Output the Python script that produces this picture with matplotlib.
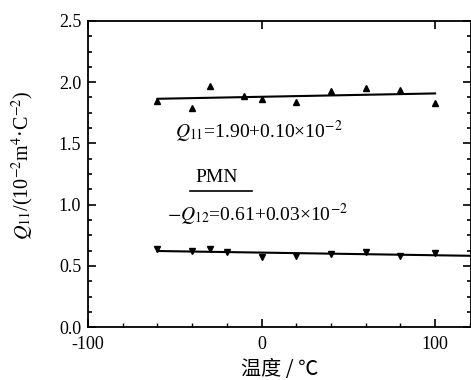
import numpy as np
import matplotlib
matplotlib.use("Agg")
import matplotlib.pyplot as plt
from matplotlib.ticker import AutoMinorLocator, MultipleLocator

plt.rcParams['font.family'] = ['Liberation Serif', 'Noto Sans CJK SC']
plt.rcParams['mathtext.fontset'] = 'stix'

# Q11 data (up triangles)
t_q11 = [-60, -40, -30, -10, 0, 20, 40, 60, 80, 100]
q11 = [1.85, 1.79, 1.97, 1.89, 1.86, 1.84, 1.93, 1.95, 1.94, 1.83]

# -Q12 data (down triangles)
t_q12 = [-60, -40, -30, -20, 0, 20, 40, 60, 80, 100]
q12 = [0.64, 0.62, 0.635, 0.61, 0.57, 0.58, 0.595, 0.615, 0.585, 0.605]

xticks = [-100, 0, 100]
yticks = [0.0, 0.5, 1.0, 1.5, 2.0, 2.5]

fig = plt.figure(figsize=(4.71, 3.8), dpi=100)
ax = fig.add_axes([0.187, 0.139, 0.814, 0.806])

ax.plot(t_q11, q11, '^', color='black', markersize=5)
ax.plot(t_q12, q12, 'v', color='black', markersize=5)

# linear fits
a1, b1 = np.polyfit(t_q11, q11, 1)
xf1 = np.linspace(min(t_q11), max(t_q11), 50)
ax.plot(xf1, a1 * xf1 + b1, '-', color='black', lw=1.5)
a2, b2 = np.polyfit(t_q12, q12, 1)
xf2 = np.linspace(min(t_q12), 121, 50)
ax.plot(xf2, a2 * xf2 + b2, '-', color='black', lw=1.5)

ax.text(-50, 1.59, r'$Q_{11}$=1.90+0.10×10$^{-2}$', fontsize=14, va='center', ha='left')
ax.text(-38, 1.22, 'PMN', fontsize=14, va='center', ha='left')
ax.plot([-41.5, -5.5], [1.11, 1.11], '-', color='black', lw=1.2)
ax.text(-54.5, 0.92, r'$-Q_{12}$=0.61+0.03×10$^{-2}$', fontsize=14, va='center', ha='left')

ax.set_xlim(-100, 121)
ax.set_ylim(0, 2.5)
ax.set_xticks(xticks)
ax.set_xticklabels(['-100', '0', '100'])
ax.set_yticks(yticks)
ax.set_yticklabels([f'{v:.1f}' for v in yticks])
ax.xaxis.set_minor_locator(MultipleLocator(20))
ax.yaxis.set_minor_locator(AutoMinorLocator(4))
ax.tick_params(axis='both', which='major', direction='in', length=6, width=1.2,
               labelsize=13, top=True, right=True)
ax.tick_params(axis='x', which='major', pad=6)
ax.tick_params(axis='y', which='major', pad=5)
ax.tick_params(axis='x', which='minor', direction='in', length=3, width=1, top=False)
ax.tick_params(axis='y', which='minor', direction='in', length=3, width=1.2, right=True)
for s in ax.spines.values():
    s.set_linewidth(1.3)

ax.set_xlabel('温度 / ℃', fontsize=14.5, family=['Noto Sans CJK SC', 'DejaVu Sans'], labelpad=5)
ax.set_ylabel(r'$Q_{11}$/(10$^{-2}$m$^4$·C$^{-2}$)', fontsize=14.5)
ax.yaxis.set_label_coords(-0.135, 0.53)

fig.savefig('out.png', dpi=100)
